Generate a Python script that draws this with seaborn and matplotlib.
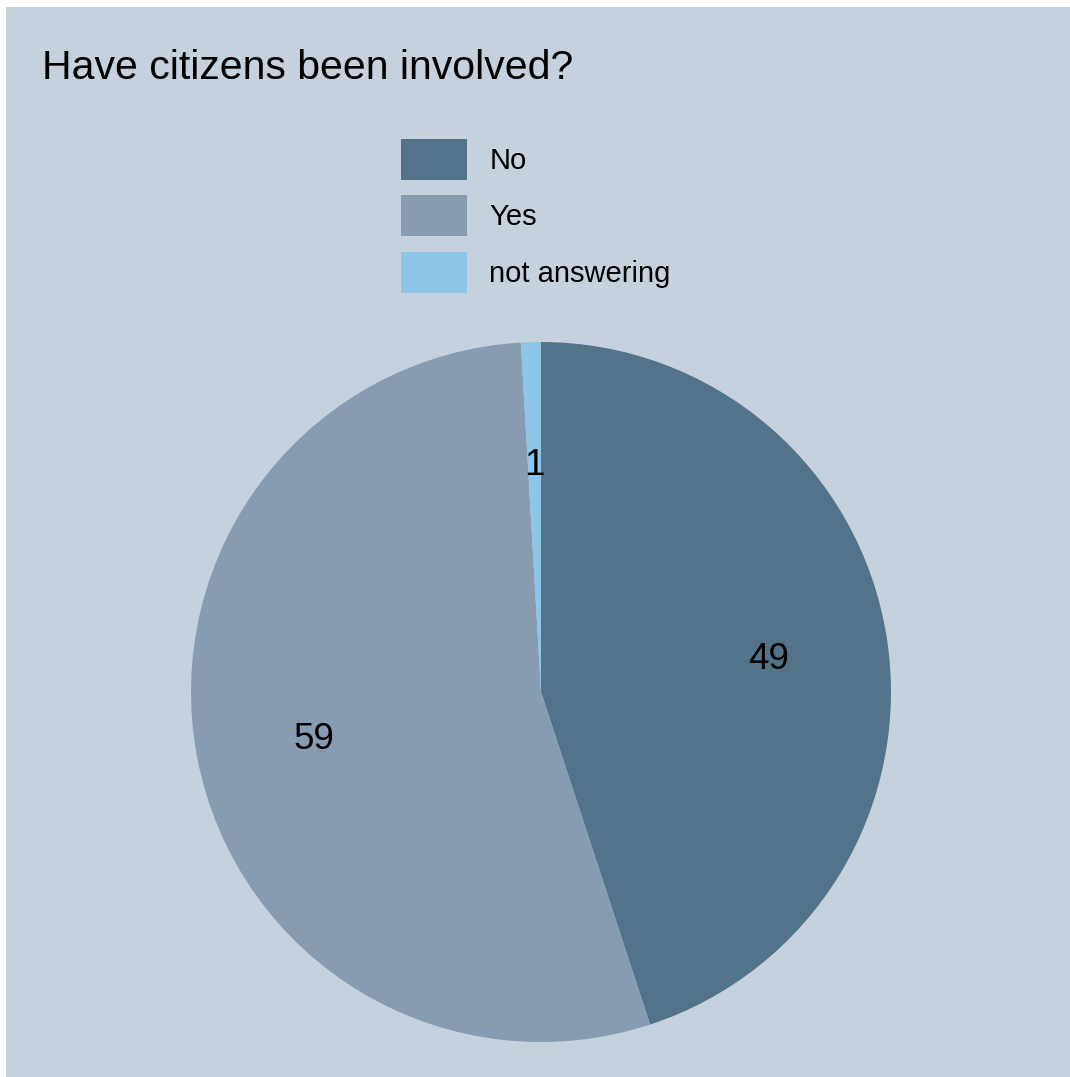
import matplotlib
matplotlib.use("Agg")
import matplotlib.pyplot as plt
import seaborn as sns

labels = ["No", "Yes", "not answering"]
values = [49, 59, 1]
colors = ["#52738A", "#889CB1", "#8EC6EA"]
title = "Have citizens been involved?"

sns.set_style("white")
plt.rcParams['font.family'] = ['Liberation Sans', 'DejaVu Sans']
plt.rcParams['text.color'] = 'black'

W, H = 1070, 1077
fig = plt.figure(figsize=(W / 100, H / 100), dpi=100, facecolor="white")

# panel background
bg = fig.add_axes([6 / W, 0, 1 - 6 / W, 1 - 7 / H], zorder=-1)
bg.set_facecolor("#C5D2DE")
bg.set_xticks([])
bg.set_yticks([])
for s in bg.spines.values():
    s.set_visible(False)

ax = fig.add_axes([191 / W, 35 / H, 700 / W, 700 / H])
ax.set_facecolor("none")
wedges, texts = ax.pie(values, colors=colors, labels=[str(v) for v in values],
                       startangle=90, counterclock=False, labeldistance=0.66,
                       wedgeprops=dict(linewidth=0),
                       textprops=dict(fontsize=26.5, color="black"))
for t in texts:
    t.set_ha("center")
    t.set_va("center_baseline")
ax.set_xlim(-1, 1)
ax.set_ylim(-1, 1)
ax.set_aspect("equal")
ax.axis("off")

fig.text(42 / W, 1 - 79 / H, title, fontsize=29.5, va="baseline", ha="left", color="black")

leg = fig.legend(wedges, labels, loc="upper left", bbox_to_anchor=(392 / W, 1 - 130 / H),
                 frameon=False, fontsize=21, handlelength=2.27, handleheight=1.8,
                 handletextpad=0.76, labelspacing=0.52, borderaxespad=0, borderpad=0.3)
for t in leg.get_texts():
    t.set_color("black")

fig.savefig("out.png", dpi=100, facecolor=fig.get_facecolor())
